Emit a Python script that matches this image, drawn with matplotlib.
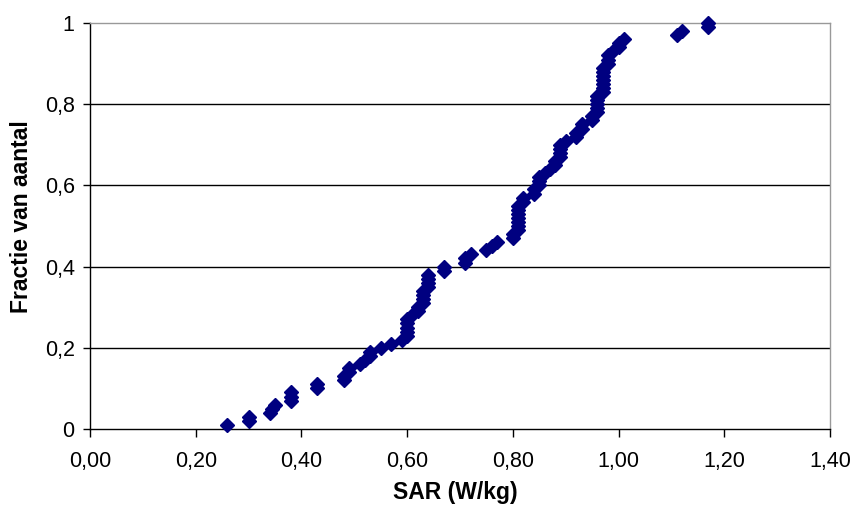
import numpy as np
import matplotlib
matplotlib.use("Agg")
import matplotlib.pyplot as plt
import matplotlib.ticker as ticker

plt.rcParams["font.family"] = ["Liberation Sans", "DejaVu Sans"]

# SAR values (W/kg), sorted
sar = [
    0.26, 0.30, 0.30, 0.34, 0.345, 0.35, 0.38, 0.38, 0.38, 0.43, 0.43,
    0.48, 0.48, 0.49, 0.49, 0.51, 0.52, 0.53, 0.53, 0.55, 0.57, 0.59,
    0.60, 0.60, 0.60, 0.60, 0.60, 0.61, 0.62, 0.62,
    0.63, 0.63, 0.63, 0.63, 0.64, 0.64, 0.64, 0.64,
    0.67, 0.67, 0.71, 0.71, 0.72, 0.75, 0.76, 0.77, 0.80, 0.80,
    0.81, 0.81, 0.81, 0.81, 0.81, 0.81, 0.81, 0.82, 0.82,
    0.84, 0.84, 0.85, 0.85, 0.85, 0.86, 0.87, 0.88, 0.88,
    0.89, 0.89, 0.89, 0.89, 0.90, 0.92, 0.92, 0.93, 0.93, 0.95, 0.95,
    0.96, 0.96, 0.96, 0.96, 0.96,
    0.97, 0.97, 0.97, 0.97, 0.97, 0.97, 0.97,
    0.98, 0.98, 0.98, 0.99, 1.00, 1.00, 1.01, 1.11, 1.12, 1.17, 1.17,
]

x_ticks = [0.0, 0.2, 0.4, 0.6, 0.8, 1.0, 1.2, 1.4]
y_ticks = [0.0, 0.2, 0.4, 0.6, 0.8, 1.0]

# cumulative fraction (empirical CDF)
sar = np.sort(np.asarray(sar))
frac = np.arange(1, len(sar) + 1) / len(sar)

fig = plt.figure(figsize=(8.54, 5.08), dpi=100)
ax = fig.add_axes([90 / 854, 79 / 508, 740 / 854, 406 / 508])

# horizontal gridlines
for yv in y_ticks[1:-1]:
    ax.axhline(yv, color="black", linewidth=1.0, zorder=1)

ax.plot(sar, frac, linestyle="none", marker="D", markersize=7,
        color="#000080", markeredgecolor="#000080", zorder=3, clip_on=False)

ax.set_xlim(0, 1.4)
ax.set_ylim(0, 1)
ax.set_xticks(x_ticks)
ax.set_yticks(y_ticks)
ax.xaxis.set_major_formatter(ticker.FuncFormatter(lambda v, p: f"{v:.2f}".replace(".", ",")))
ax.yaxis.set_major_formatter(ticker.FuncFormatter(
    lambda v, p: "0" if v == 0 else ("1" if v == 1 else f"{v:.1f}".replace(".", ","))))

ax.tick_params(axis="x", direction="out", length=6, width=1, pad=10, labelsize=15.5)
ax.tick_params(axis="y", direction="out", length=5, width=1, pad=6, labelsize=15.5)

ax.spines["left"].set_color("black")
ax.spines["bottom"].set_color("black")
ax.spines["top"].set_color("#999999")
ax.spines["right"].set_color("#999999")
for s in ax.spines.values():
    s.set_linewidth(1.0)

ax.set_xlabel("SAR (W/kg)", fontsize=16.5, fontweight="bold")
ax.set_ylabel("Fractie van aantal", fontsize=16.5, fontweight="bold")
ax.xaxis.set_label_coords(0.494, -0.1576)
ax.xaxis.label.set_verticalalignment("center")
ax.yaxis.set_label_coords(-0.0919, 0.523)
ax.yaxis.label.set_verticalalignment("center")
ax.yaxis.label.set_horizontalalignment("center")

fig.savefig("out.png", dpi=100)
